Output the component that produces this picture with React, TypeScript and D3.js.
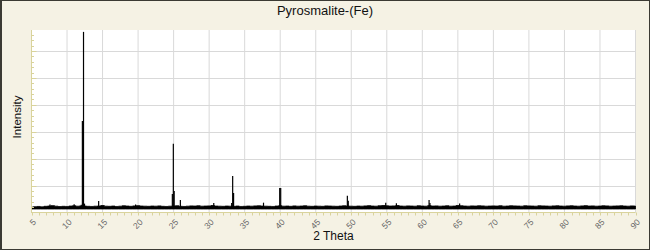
import React from "react";
import * as d3 from "d3";

const TITLE = "Pyrosmalite-(Fe)";
const X_LABEL = "2 Theta";
const Y_LABEL = "Intensity";
const X_TICKS = [5, 10, 15, 20, 25, 30, 35, 40, 45, 50, 55, 60, 65, 70, 75, 80, 85, 90];
const X_DOMAIN = [5, 90];
const Y_DOMAIN = [0, 6780];
const Y_GRID_STEP = 1000;
const Y_MINOR_STEP = 200;
const NOISE_FLOOR = 130;
const BASE_START = 5;
const BASE_STEP = 0.5;
// baseline (noise band top) every 0.5 deg from 5 to 90
const BASELINE = [
  200, 215, 225, 210, 230, 240, 255, 235, 220, 230,
  225, 240, 250, 235, 245, 240, 230, 225, 235, 240,
  260, 235, 230, 240, 225, 235, 250, 240, 230, 245,
  255, 240, 235, 230, 240, 235, 245, 230, 225, 235,
  240, 250, 230, 225, 235, 245, 240, 250, 235, 240,
  245, 260, 240, 235, 230, 240, 235, 230, 240, 225,
  230, 240, 235, 245, 250, 240, 235, 230, 225, 240,
  250, 235, 240, 230, 245, 235, 240, 250, 235, 230,
  240, 235, 230, 245, 240, 235, 230, 240, 250, 240,
  235, 230, 240, 235, 245, 255, 240, 235, 250, 260,
  250, 240, 245, 260, 240, 235, 245, 240, 235, 250,
  240, 235, 255, 240, 245, 235, 240, 250, 235, 240,
  260, 250, 240, 235, 245, 240, 250, 245, 235, 240,
  245, 240, 250, 235, 240, 250, 245, 240, 235, 250,
  245, 240, 235, 250, 245, 240, 235, 245, 250, 240,
  235, 245, 250, 240, 235, 245, 255, 240, 245, 235,
  240, 250, 245, 235, 240, 245, 250, 240, 235, 245,
  240,
];
// narrow reflections: 2-theta positions and intensities
const PEAK_POS = [
  7.6, 11.0, 12.0, 12.16, 12.32, 12.46, 14.45, 19.65, 24.82, 24.96, 25.08, 25.95,
  30.65, 33.17, 33.31, 33.44, 37.65, 39.93, 40.07, 49.45, 49.58, 54.85, 56.35, 60.95,
  61.07, 65.25,
];
const PEAK_INT = [
  300, 310, 290, 3400, 6710, 330, 430, 300, 690, 2550, 800, 465,
  350, 355, 1360, 725, 365, 910, 910, 625, 440, 365, 345, 465,
  350, 335,
];

const W = 650;
const H = 250;
const L = 31.5;
const R = 635.5;
const T = 30;
const B = 212.5;

export default function App() {
  const x = d3.scaleLinear().domain(X_DOMAIN).range([L, R]);
  const y = d3.scaleLinear().domain(Y_DOMAIN).range([B, T]);

  const basePts = BASELINE.map((v, i) => [BASE_START + i * BASE_STEP, v] as [number, number]);
  const area = d3
    .area<[number, number]>()
    .x((d) => x(d[0]))
    .y0(() => y(NOISE_FLOOR))
    .y1((d) => y(d[1]))
    .curve(d3.curveStep);

  const yGrid = d3.range(Y_GRID_STEP, Y_DOMAIN[1], Y_GRID_STEP);
  const yMinor = d3.range(Y_MINOR_STEP, Y_DOMAIN[1], Y_MINOR_STEP);
  const xMinor = d3.range(X_DOMAIN[0], X_DOMAIN[1] + 0.001, 1);

  const axisColor = "#d9d39c";
  const font = "'Liberation Sans', Arial, sans-serif";

  return (
    <svg width={W} height={H} style={{ position: "absolute", left: 0, top: 0 }}>
      <rect x={0} y={0} width={W} height={H} fill="#3b3a33" />
      <rect x={2} y={1} width={W - 3} height={H - 2} fill="#f5f2e4" />
      <rect x={L} y={T} width={R - L} height={B - T} fill="#ffffff" />
      {X_TICKS.slice(1).map((t) => (
        <line key={"gx" + t} x1={x(t)} x2={x(t)} y1={T} y2={B} stroke="#d9d9d9" strokeWidth={1} />
      ))}
      {yGrid.map((t) => (
        <line key={"gy" + t} x1={L} x2={R} y1={Math.round(y(t)) + 0.5} y2={Math.round(y(t)) + 0.5} stroke="#d9d9d9" strokeWidth={1} />
      ))}
      <path d={area(basePts) || ""} fill="#000" stroke="#000" strokeWidth={0.8} />
      {PEAK_POS.map((p, i) => (
        <line key={"pk" + i} x1={x(p)} x2={x(p)} y1={y(NOISE_FLOOR)} y2={y(PEAK_INT[i])} stroke="#000" strokeWidth={1.2} />
      ))}
      {/* axes */}
      <line x1={L} x2={L} y1={T} y2={B + 0.5} stroke={axisColor} strokeWidth={1} />
      <line x1={L} x2={R} y1={B} y2={B} stroke={axisColor} strokeWidth={1} />
      {yMinor.map((t) => {
        const major = t % Y_GRID_STEP === 0;
        const yy = Math.round(y(t)) + 0.5;
        return <line key={"ym" + t} x1={L} x2={L + (major ? 5 : 2.5)} y1={yy} y2={yy} stroke={axisColor} strokeWidth={1} />;
      })}
      {xMinor.map((t) => {
        const xx = Math.round(x(t)) + 0.5;
        return <line key={"xm" + t} x1={xx} x2={xx} y1={B} y2={B + 3} stroke={axisColor} strokeWidth={1} />;
      })}
      {X_TICKS.map((t) => (
        <text
          key={"xl" + t}
          transform={`translate(${x(t) + 1},${B + 6}) rotate(-45)`}
          textAnchor="end"
          dy="0.7em"
          fontFamily={font}
          fontSize={8.5}
          fill="#666"
        >
          {t}
        </text>
      ))}
      <text x={W / 2} y={15} textAnchor="middle" fontFamily={font} fontSize={13} fill="#111">
        {TITLE}
      </text>
      <text x={(L + R) / 2} y={240} textAnchor="middle" fontFamily={font} fontSize={12} fill="#111">
        {X_LABEL}
      </text>
      <text transform="translate(21,117) rotate(-90)" textAnchor="middle" fontFamily={font} fontSize={11.5} fill="#111">
        {Y_LABEL}
      </text>
    </svg>
  );
}
